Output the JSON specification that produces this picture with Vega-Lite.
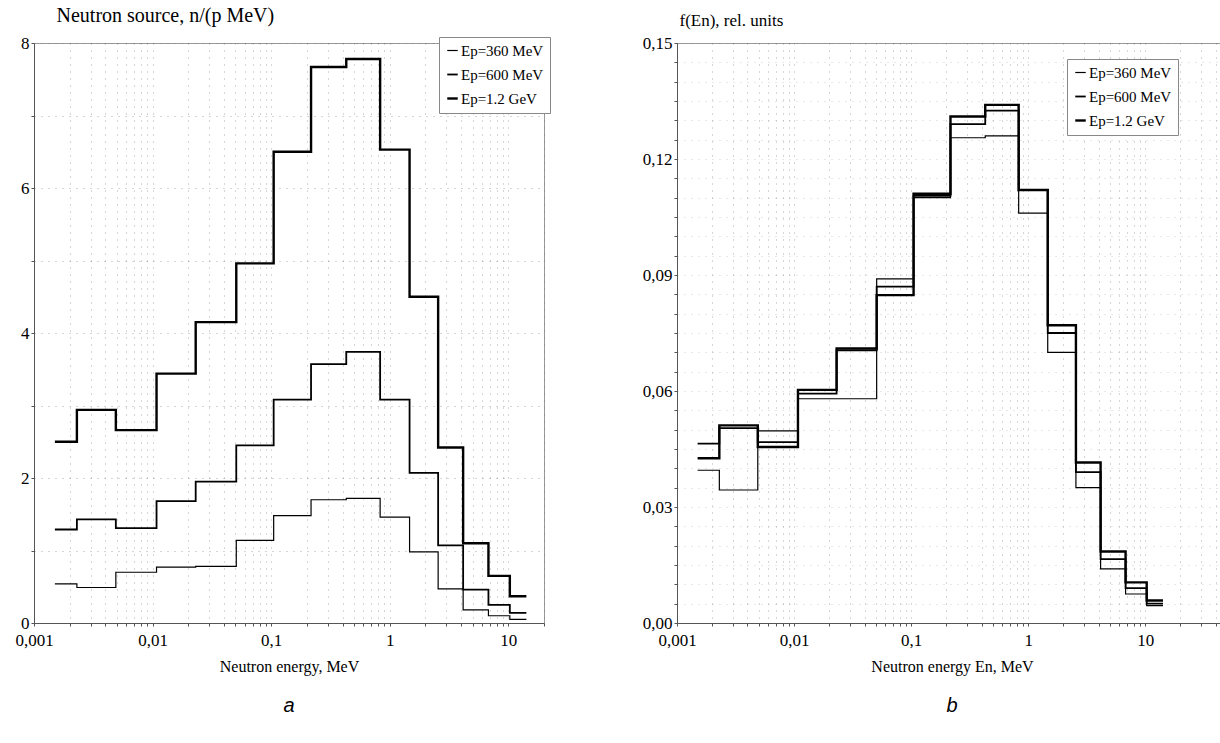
{
  "$schema": "https://vega.github.io/schema/vega-lite/v6.json",
  "background": "white",
  "padding": {"left": 14, "top": 4, "right": 0, "bottom": 0},
  "spacing": 90,
  "resolve": {"scale": {"strokeWidth": "independent", "x": "independent", "y": "independent"}, "legend": {"strokeWidth": "independent"}},
  "config": {
    "font": "Liberation Serif",
    "view": {"stroke": "#999", "strokeWidth": 1},
    "axis": {
      "labelFont": "Liberation Serif", "labelFontSize": 17, "labelColor": "black",
      "titleFont": "Liberation Serif", "titleFontSize": 16, "titleFontWeight": "normal", "titleColor": "black",
      "domainColor": "#555", "tickColor": "#555", "tickSize": 3,
      "gridColor": "#777", "gridDash": [1, 6], "gridOpacity": 0.6,
      "labelOverlap": false, "labelFlush": false, "labelBound": false
    },
    "legend": {
      "symbolType": "stroke", "symbolStrokeColor": "black", "symbolSize": 110,
      "labelFont": "Liberation Serif", "labelFontSize": 15, "labelColor": "black",
      "rowPadding": 8, "padding": 6, "strokeColor": "#888", "fillColor": "white", "labelOffset": 1
    }
  },
  "datasets": {
    "a": [
      {"series": "Ep=1.2 GeV", "E": 0.0015, "v": 2.50}, {"series": "Ep=1.2 GeV", "E": 0.0023, "v": 2.94},
      {"series": "Ep=1.2 GeV", "E": 0.0049, "v": 2.66}, {"series": "Ep=1.2 GeV", "E": 0.0108, "v": 3.44},
      {"series": "Ep=1.2 GeV", "E": 0.0231, "v": 4.15}, {"series": "Ep=1.2 GeV", "E": 0.0508, "v": 4.96},
      {"series": "Ep=1.2 GeV", "E": 0.105, "v": 6.50}, {"series": "Ep=1.2 GeV", "E": 0.217, "v": 7.67},
      {"series": "Ep=1.2 GeV", "E": 0.43, "v": 7.78}, {"series": "Ep=1.2 GeV", "E": 0.83, "v": 6.53},
      {"series": "Ep=1.2 GeV", "E": 1.47, "v": 4.50}, {"series": "Ep=1.2 GeV", "E": 2.56, "v": 2.42},
      {"series": "Ep=1.2 GeV", "E": 4.16, "v": 1.10}, {"series": "Ep=1.2 GeV", "E": 6.8, "v": 0.65},
      {"series": "Ep=1.2 GeV", "E": 10.3, "v": 0.37}, {"series": "Ep=1.2 GeV", "E": 14.2, "v": 0.37},
      {"series": "Ep=600 MeV", "E": 0.0015, "v": 1.29}, {"series": "Ep=600 MeV", "E": 0.0023, "v": 1.43},
      {"series": "Ep=600 MeV", "E": 0.0049, "v": 1.31}, {"series": "Ep=600 MeV", "E": 0.0108, "v": 1.68},
      {"series": "Ep=600 MeV", "E": 0.0231, "v": 1.95}, {"series": "Ep=600 MeV", "E": 0.0508, "v": 2.45},
      {"series": "Ep=600 MeV", "E": 0.105, "v": 3.08}, {"series": "Ep=600 MeV", "E": 0.217, "v": 3.57},
      {"series": "Ep=600 MeV", "E": 0.43, "v": 3.74}, {"series": "Ep=600 MeV", "E": 0.83, "v": 3.08},
      {"series": "Ep=600 MeV", "E": 1.47, "v": 2.07}, {"series": "Ep=600 MeV", "E": 2.56, "v": 1.07},
      {"series": "Ep=600 MeV", "E": 4.16, "v": 0.46}, {"series": "Ep=600 MeV", "E": 6.8, "v": 0.25},
      {"series": "Ep=600 MeV", "E": 10.3, "v": 0.14}, {"series": "Ep=600 MeV", "E": 14.2, "v": 0.14},
      {"series": "Ep=360 MeV", "E": 0.0015, "v": 0.54}, {"series": "Ep=360 MeV", "E": 0.0023, "v": 0.49},
      {"series": "Ep=360 MeV", "E": 0.0049, "v": 0.70}, {"series": "Ep=360 MeV", "E": 0.0108, "v": 0.77},
      {"series": "Ep=360 MeV", "E": 0.0231, "v": 0.78}, {"series": "Ep=360 MeV", "E": 0.0508, "v": 1.14},
      {"series": "Ep=360 MeV", "E": 0.105, "v": 1.48}, {"series": "Ep=360 MeV", "E": 0.217, "v": 1.70},
      {"series": "Ep=360 MeV", "E": 0.43, "v": 1.72}, {"series": "Ep=360 MeV", "E": 0.83, "v": 1.46},
      {"series": "Ep=360 MeV", "E": 1.47, "v": 0.98}, {"series": "Ep=360 MeV", "E": 2.56, "v": 0.47},
      {"series": "Ep=360 MeV", "E": 4.16, "v": 0.18}, {"series": "Ep=360 MeV", "E": 6.8, "v": 0.10},
      {"series": "Ep=360 MeV", "E": 10.3, "v": 0.05}, {"series": "Ep=360 MeV", "E": 14.2, "v": 0.05}
    ],
    "b": [
      {"series": "Ep=1.2 GeV", "E": 0.0015, "v": 0.0426}, {"series": "Ep=1.2 GeV", "E": 0.0023, "v": 0.0511},
      {"series": "Ep=1.2 GeV", "E": 0.0049, "v": 0.0455}, {"series": "Ep=1.2 GeV", "E": 0.0108, "v": 0.0603},
      {"series": "Ep=1.2 GeV", "E": 0.0231, "v": 0.0710}, {"series": "Ep=1.2 GeV", "E": 0.0508, "v": 0.0848},
      {"series": "Ep=1.2 GeV", "E": 0.105, "v": 0.1110}, {"series": "Ep=1.2 GeV", "E": 0.217, "v": 0.1310},
      {"series": "Ep=1.2 GeV", "E": 0.43, "v": 0.1340}, {"series": "Ep=1.2 GeV", "E": 0.83, "v": 0.1120},
      {"series": "Ep=1.2 GeV", "E": 1.47, "v": 0.0770}, {"series": "Ep=1.2 GeV", "E": 2.56, "v": 0.0415},
      {"series": "Ep=1.2 GeV", "E": 4.16, "v": 0.0185}, {"series": "Ep=1.2 GeV", "E": 6.8, "v": 0.0105},
      {"series": "Ep=1.2 GeV", "E": 10.3, "v": 0.0058}, {"series": "Ep=1.2 GeV", "E": 14.2, "v": 0.0058},
      {"series": "Ep=600 MeV", "E": 0.0015, "v": 0.0464}, {"series": "Ep=600 MeV", "E": 0.0023, "v": 0.0504},
      {"series": "Ep=600 MeV", "E": 0.0049, "v": 0.0468}, {"series": "Ep=600 MeV", "E": 0.0108, "v": 0.0593},
      {"series": "Ep=600 MeV", "E": 0.0231, "v": 0.0705}, {"series": "Ep=600 MeV", "E": 0.0508, "v": 0.0870},
      {"series": "Ep=600 MeV", "E": 0.105, "v": 0.1105}, {"series": "Ep=600 MeV", "E": 0.217, "v": 0.1290},
      {"series": "Ep=600 MeV", "E": 0.43, "v": 0.1325}, {"series": "Ep=600 MeV", "E": 0.83, "v": 0.1120},
      {"series": "Ep=600 MeV", "E": 1.47, "v": 0.0750}, {"series": "Ep=600 MeV", "E": 2.56, "v": 0.0390},
      {"series": "Ep=600 MeV", "E": 4.16, "v": 0.0165}, {"series": "Ep=600 MeV", "E": 6.8, "v": 0.0090},
      {"series": "Ep=600 MeV", "E": 10.3, "v": 0.0050}, {"series": "Ep=600 MeV", "E": 14.2, "v": 0.0050},
      {"series": "Ep=360 MeV", "E": 0.0015, "v": 0.0395}, {"series": "Ep=360 MeV", "E": 0.0023, "v": 0.0344},
      {"series": "Ep=360 MeV", "E": 0.0049, "v": 0.0497}, {"series": "Ep=360 MeV", "E": 0.0108, "v": 0.0580},
      {"series": "Ep=360 MeV", "E": 0.0231, "v": 0.0580}, {"series": "Ep=360 MeV", "E": 0.0508, "v": 0.0890},
      {"series": "Ep=360 MeV", "E": 0.105, "v": 0.1100}, {"series": "Ep=360 MeV", "E": 0.217, "v": 0.1255},
      {"series": "Ep=360 MeV", "E": 0.43, "v": 0.1260}, {"series": "Ep=360 MeV", "E": 0.83, "v": 0.1060},
      {"series": "Ep=360 MeV", "E": 1.47, "v": 0.0700}, {"series": "Ep=360 MeV", "E": 2.56, "v": 0.0350},
      {"series": "Ep=360 MeV", "E": 4.16, "v": 0.0140}, {"series": "Ep=360 MeV", "E": 6.8, "v": 0.0075},
      {"series": "Ep=360 MeV", "E": 10.3, "v": 0.0045}, {"series": "Ep=360 MeV", "E": 14.2, "v": 0.0045}
    ]
  },
  "hconcat": [
    {
      "width": 510,
      "height": 580,
      "data": {"name": "a"},
      "title": {"text": "a", "orient": "bottom", "font": "Liberation Sans", "fontStyle": "italic", "fontSize": 20, "fontWeight": "normal", "offset": 22},
      "mark": {"type": "line", "interpolate": "step-after", "color": "black"},
      "encoding": {
        "x": {
          "field": "E", "type": "quantitative",
          "scale": {"type": "log", "domain": [0.001, 20], "nice": false},
          "axis": {
            "title": "Neutron energy, MeV", "titlePadding": 10,
            "values": [0.001,0.002,0.003,0.004,0.005,0.006,0.007,0.008,0.009,0.01,0.02,0.03,0.04,0.05,0.06,0.07,0.08,0.09,0.1,0.2,0.3,0.4,0.5,0.6,0.7,0.8,0.9,1,2,3,4,5,6,7,8,9,10,20],
            "labelExpr": "indexof([0.001,0.01,0.1,1,10], datum.value) >= 0 ? replace(toString(datum.value), '.', ',') : ''",
            "grid": true, "labelPadding": 6
          }
        },
        "y": {
          "field": "v", "type": "quantitative",
          "scale": {"domain": [0, 8], "nice": false},
          "axis": {
            "values": [0,1,2,3,4,5,6,7,8],
            "labelExpr": "datum.value % 2 == 0 ? toString(datum.value) : ''",
            "title": "Neutron source, n/(p MeV)", "titleFontSize": 20, "titleAngle": 0, "titleAlign": "left",
            "titleX": 22, "titleY": -22, "titleBaseline": "alphabetic",
            "grid": true, "labelPadding": 2
          }
        },
        "detail": {"field": "series"},
        "strokeWidth": {
          "field": "series", "type": "ordinal",
          "scale": {"domain": ["Ep=360 MeV", "Ep=600 MeV", "Ep=1.2 GeV"], "range": [1.2, 2.4, 4]},
          "legend": {"title": null, "orient": "none", "legendX": 405, "legendY": -6}
        }
      }
    },
    {
      "width": 550,
      "height": 580,
      "data": {"name": "b"},
      "title": {"text": "b", "orient": "bottom", "font": "Liberation Sans", "fontStyle": "italic", "fontSize": 20, "fontWeight": "normal", "offset": 22},
      "mark": {"type": "line", "interpolate": "step-after", "color": "black"},
      "encoding": {
        "x": {
          "field": "E", "type": "quantitative",
          "scale": {"type": "log", "domain": [0.001, 50], "nice": false},
          "axis": {
            "title": "Neutron energy En, MeV", "titlePadding": 10,
            "values": [0.001,0.002,0.003,0.004,0.005,0.006,0.007,0.008,0.009,0.01,0.02,0.03,0.04,0.05,0.06,0.07,0.08,0.09,0.1,0.2,0.3,0.4,0.5,0.6,0.7,0.8,0.9,1,2,3,4,5,6,7,8,9,10,20,30,40,50],
            "labelExpr": "indexof([0.001,0.01,0.1,1,10], datum.value) >= 0 ? replace(toString(datum.value), '.', ',') : ''",
            "grid": true, "labelPadding": 6
          }
        },
        "y": {
          "field": "v", "type": "quantitative",
          "scale": {"domain": [0, 0.15], "nice": false},
          "axis": {
            "values": [0,0.005,0.01,0.015,0.02,0.025,0.03,0.035,0.04,0.045,0.05,0.055,0.06,0.065,0.07,0.075,0.08,0.085,0.09,0.095,0.1,0.105,0.11,0.115,0.12,0.125,0.13,0.135,0.14,0.145,0.15],
            "labelExpr": "indexof(['0.000','0.030','0.060','0.090','0.120','0.150'], format(datum.value, '.3f')) >= 0 ? replace(format(datum.value, '.2f'), '.', ',') : ''",
            "title": "f(En), rel. units", "titleFontSize": 17, "titleAngle": 0, "titleAlign": "left",
            "titleX": 2, "titleY": -18, "titleBaseline": "alphabetic",
            "grid": true, "gridOpacity": 0.35, "labelPadding": 2
          }
        },
        "detail": {"field": "series"},
        "strokeWidth": {
          "field": "series", "type": "ordinal",
          "scale": {"domain": ["Ep=360 MeV", "Ep=600 MeV", "Ep=1.2 GeV"], "range": [1.2, 2.4, 3.6]},
          "legend": {"title": null, "orient": "none", "legendX": 390, "legendY": 16}
        }
      }
    }
  ]
}
